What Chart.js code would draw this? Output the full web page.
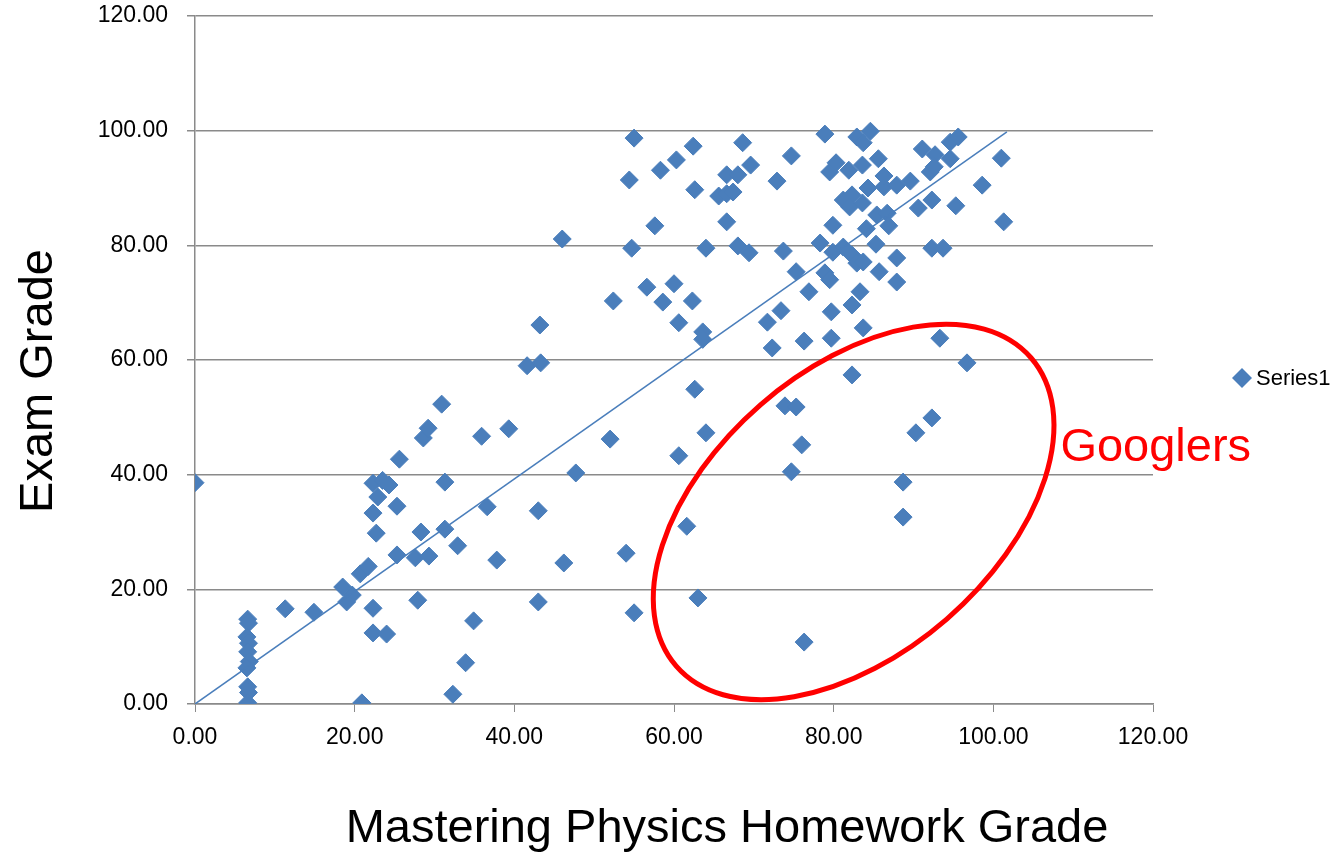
<!DOCTYPE html>
<html>
<head>
<meta charset="utf-8">
<script src="https://cdn.jsdelivr.net/npm/chart.js@4"></script>
<style>
  html, body { margin: 0; padding: 0; background: #fff; }
  #wrap { width: 1336px; height: 855px; position: relative; }
</style>
</head>
<body>
<div id="wrap"><canvas id="chart"></canvas></div>
<script>
// homework grade (x) and exam grade (y)
var homework = [
  0.0, 6.6, 6.7, 6.5, 6.7, 6.6, 6.8, 6.5, 6.6, 6.7, 6.6,
  11.3, 14.9, 18.5, 19.7, 19.0,
  20.7, 21.7, 20.9, 22.3, 22.3, 24.0, 22.3, 22.7, 22.3, 23.5, 24.3, 22.9, 25.3, 25.6,
  25.3, 27.6, 29.3, 27.9, 28.3, 28.6, 29.2,
  30.9, 31.3, 31.3, 32.9, 32.3, 33.9, 34.9, 35.9, 36.6, 37.8, 39.3,
  41.6, 43.3, 43.2, 43.0, 43.0, 46.0, 46.2, 47.7,
  52.0, 52.4, 54.0, 55.0, 54.4, 55.0, 54.7, 56.6, 57.6, 58.3, 58.6,
  60.0, 60.3, 60.6, 60.6, 61.6, 62.3, 62.4, 62.6, 62.6, 63.0, 63.6, 63.6, 64.0, 64.0,
  65.6, 66.6, 67.4, 66.6, 68.0, 66.6, 68.0, 68.6, 69.4, 69.6,
  71.7, 72.3, 72.9, 73.4, 73.7, 74.7, 75.3, 76.9, 76.3, 78.3, 78.9, 78.9, 79.5, 79.7,
  79.7, 79.9, 79.5, 80.3, 79.9,
  73.9, 75.3, 76.0, 74.7, 76.3,
  81.2, 82.3, 82.0, 83.6, 81.9, 83.6, 85.6, 82.9, 84.6, 83.7, 84.3, 86.3, 86.3, 87.9,
  89.6, 85.4, 86.7, 86.9, 84.1, 81.2, 82.3, 82.9, 83.7, 85.3, 87.9, 85.7, 87.9, 83.3,
  82.3, 83.7, 82.3, 88.7, 88.7,
  91.1, 92.7, 94.6, 95.6, 94.6, 92.1, 92.6, 101.0, 98.6, 101.3, 90.6, 92.3, 95.3,
  92.3, 93.7, 93.3, 96.7, 92.3, 90.3
];
var exam = [
  38.6, 14.8, 14.1, 11.7, 10.6, 9.1, 7.4, 6.3, 3.0, 2.0, 0.2,
  16.6, 16.0, 20.4, 19.0, 17.8,
  22.7, 24.0, 0.2, 16.7, 12.4, 12.2, 33.3, 29.8, 38.5, 39.0, 38.2, 36.1, 34.5, 42.7,
  26.0, 25.5, 25.8, 18.1, 30.0, 46.4, 48.1,
  52.3, 38.7, 30.5, 27.6, 1.7, 7.2, 14.5, 46.7, 34.4, 25.1, 48.0,
  59.0, 59.5, 66.1, 33.7, 17.8, 81.1, 24.6, 40.3,
  46.2, 70.3, 26.3, 15.9, 91.4, 98.7, 79.5, 72.7, 83.4, 93.1, 70.1,
  73.3, 94.9, 66.5, 43.3, 31.0, 70.3, 97.3, 89.7, 54.9, 18.5, 64.9, 63.6, 79.5, 47.3,
  88.6, 89.0, 89.3, 92.3, 92.3, 84.1, 79.9, 97.9, 78.7, 94.0,
  66.6, 62.1, 91.2, 68.6, 79.0, 95.6, 75.4, 71.9, 63.3, 80.4, 99.4, 75.2, 74.0, 68.4,
  63.8, 83.5, 92.8, 94.4, 78.8,
  52.0, 51.8, 45.2, 40.5, 10.8,
  87.9, 88.8, 86.7, 87.4, 93.1, 94.0, 95.1, 98.9, 99.9, 97.9, 90.0, 90.2, 92.1, 90.5,
  91.2, 85.3, 85.6, 83.4, 82.9, 79.7, 78.3, 76.9, 77.1, 80.2, 77.8, 75.4, 73.6, 71.9,
  69.6, 65.6, 57.4, 38.7, 32.6,
  96.8, 95.8, 98.0, 98.9, 95.1, 92.8, 93.7, 95.2, 90.5, 84.1, 86.5, 87.9, 86.9,
  79.5, 79.5, 63.8, 59.5, 49.9, 47.3
];
// linear trendline end points
var trendX = [0, 101.7];
var trendY = [0, 99.8];
var tickValues = [0, 20, 40, 60, 80, 100, 120];

var blue = "#4a7ebb";
var grey = "#8a8a8a";
var font = "'Liberation Sans', Arial, sans-serif";

var points = homework.map(function (x, i) { return { x: x, y: exam[i] }; });
var trend = trendX.map(function (x, i) { return { x: x, y: trendY[i] }; });

// annotation: the red ring and its label
var ring = { cx: 82.5, cy: 33.5, rx: 235, ry: 142, angle: 41 };
var note = { text: "Googlers", x: 108.4, y: 42.4 };

var extras = {
  id: "extras",
  afterDraw: function (chart) {
    var c = chart.ctx, xs = chart.scales.x, ys = chart.scales.y;
    c.save();
    // ellipse
    c.beginPath();
    c.ellipse(xs.getPixelForValue(ring.cx), ys.getPixelForValue(ring.cy),
      ring.rx, ring.ry, -ring.angle * Math.PI / 180, 0, Math.PI * 2);
    c.strokeStyle = "#ff0000";
    c.lineWidth = 5;
    c.stroke();
    c.fillStyle = "#ff0000";
    c.font = "47px " + font;
    c.textAlign = "left";
    c.textBaseline = "alphabetic";
    c.fillText(note.text, xs.getPixelForValue(note.x), ys.getPixelForValue(note.y));

    // axis titles
    c.fillStyle = "#000";
    c.font = "47px " + font;
    c.textAlign = "center";
    c.fillText("Mastering Physics Homework Grade", 727, 842);
    c.save();
    c.translate(52, 381);
    c.rotate(-Math.PI / 2);
    c.fillText("Exam Grade", 0, 0);
    c.restore();

    // legend
    var lx = 1242, ly = 378, r = 10;
    c.beginPath();
    c.moveTo(lx - r, ly);
    c.lineTo(lx, ly - r);
    c.lineTo(lx + r, ly);
    c.lineTo(lx, ly + r);
    c.closePath();
    c.fillStyle = blue;
    c.fill();
    c.fillStyle = "#000";
    c.font = "22px " + font;
    c.textAlign = "left";
    c.textBaseline = "middle";
    c.fillText(chart.data.datasets[0].label, 1256, 379);
    c.restore();
  }
};

new Chart(document.getElementById("chart"), {
  type: "scatter",
  data: {
    datasets: [
      {
        label: "Series1",
        data: points,
        pointStyle: "rectRot",
        pointRadius: 9,
        pointHoverRadius: 9,
        backgroundColor: blue,
        borderColor: blue,
        borderWidth: 1,
        order: 1
      },
      {
        label: "Linear (Series1)",
        type: "line",
        data: trend,
        borderColor: blue,
        borderWidth: 1.5,
        pointRadius: 0,
        fill: false,
        order: 0
      }
    ]
  },
  options: {
    responsive: true,
    maintainAspectRatio: false,
    animation: false,
    layout: { padding: { left: 0, right: 183, top: 16, bottom: 0 } },
    plugins: { legend: { display: false }, tooltip: { enabled: false } },
    scales: {
      x: {
        type: "linear",
        min: 0,
        max: 120,
        afterBuildTicks: function (s) { s.ticks = tickValues.map(function (v) { return { value: v }; }); },
        afterFit: function (s) { s.height = 151; },
        grid: { drawOnChartArea: false, drawTicks: true, tickLength: 8, color: grey },
        border: { color: grey, width: 1.5 },
        ticks: {
          padding: 12,
          color: "#000",
          font: { family: font, size: 23 },
          callback: function (v) { return v.toFixed(2); }
        }
      },
      y: {
        min: 0,
        max: 120,
        afterBuildTicks: function (s) { s.ticks = tickValues.map(function (v) { return { value: v }; }); },
        afterFit: function (s) { s.width = 195; s.paddingTop = 10; s.paddingBottom = 10; },
        grid: { color: grey, lineWidth: 1.5, tickLength: 8 },
        border: { color: grey, width: 1.5 },
        ticks: {
          padding: 19,
          color: "#000",
          font: { family: font, size: 23 },
          callback: function (v) { return v.toFixed(2); }
        }
      }
    }
  },
  plugins: [extras]
});
</script>
</body>
</html>
